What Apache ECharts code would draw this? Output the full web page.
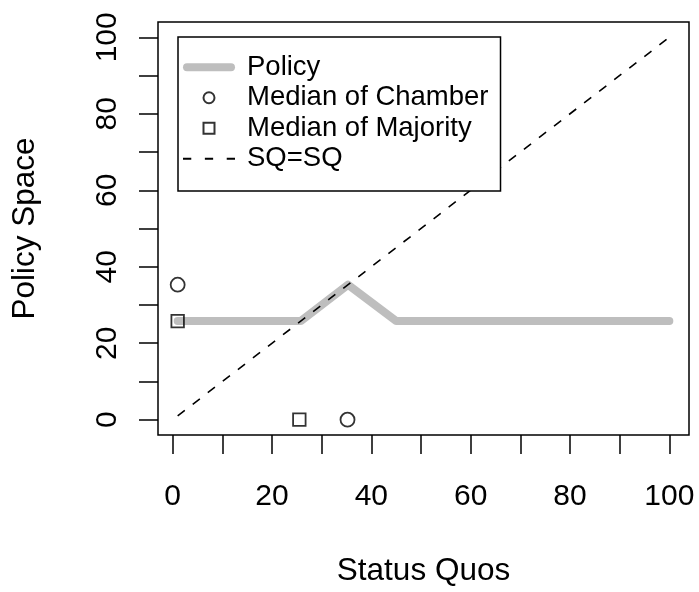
<!DOCTYPE html>
<html>
<head>
<meta charset="utf-8">
<script src="https://cdn.jsdelivr.net/npm/echarts@6/dist/echarts.min.js"></script>
<style>
html, body { margin: 0; padding: 0; background: #fff; }
#chart { width: 699px; height: 592px; }
</style>
</head>
<body>
<div id="chart"></div>
<script>
// ---- data ----
const policyX = [1, 25.8, 35.3, 45, 100];
const policyY = [25.8, 25.8, 35.3, 25.8, 25.8];
const chamberX = [1, 35.2];
const chamberY = [35.3, 0];
const majorityX = [1, 25.5];
const majorityY = [25.8, 0];
const sqX = [1, 100];
const sqY = [1, 100];
const xTicks = [0, 10, 20, 30, 40, 50, 60, 70, 80, 90, 100];
const xTickLabels = [0, 20, 40, 60, 80, 100];
const yTicks = [0, 10, 20, 30, 40, 50, 60, 70, 80, 90, 100];
const yTickLabels = [0, 20, 40, 60, 80, 100];
const seriesNames = ['Policy', 'Median of Chamber', 'Median of Majority', 'SQ=SQ'];

const pair = (xs, ys) => xs.map((x, i) => [x, ys[i]]);
const FONT = '"Liberation Sans", Arial, Helvetica, sans-serif';

const legendIcons = {
  'Policy': 'path://M4,0H48A4,4,0,0,1,48,8H4A4,4,0,0,1,4,0Z',
  'Median of Chamber': 'circle',
  'Median of Majority': 'path://M0,0H10V10H0Z',
  'SQ=SQ': 'path://M0,0H7V1.5H0Z M18.5,0H25.5V1.5H18.5Z M37,0H44V1.5H37Z'
};

const chart = echarts.init(document.getElementById('chart'), null, { renderer: 'canvas' });
chart.setOption({
  animation: false,
  backgroundColor: '#fff',
  textStyle: { fontFamily: FONT, color: '#000' },
  grid: {
    left: 158, right: 10, top: 22, bottom: 155,
    show: true, borderColor: '#000', borderWidth: 1.5, backgroundColor: 'transparent'
  },
  legend: {
    data: seriesNames.map(n => ({ name: n, icon: legendIcons[n] })),
    orient: 'vertical',
    left: 178, top: 37,
    itemWidth: 52, itemHeight: 11, itemGap: 0,
    padding: [15, 12, 17, 5],
    borderColor: '#000', borderWidth: 1.5, borderRadius: 0,
    backgroundColor: '#fff',
    selectedMode: false,
    textStyle: { fontFamily: FONT, fontSize: 27.5, lineHeight: 30.5, color: '#000', padding: [0, 0, 0, 7] }
  },
  xAxis: {
    type: 'value', min: -2.96, max: 103.96,
    name: 'Status Quos', nameLocation: 'middle', nameGap: 120,
    nameTextStyle: { fontFamily: FONT, fontSize: 31.5, color: '#000' },
    axisLine: { show: false, onZero: false },
    axisTick: { show: true, inside: false, customValues: xTicks, length: 19, lineStyle: { color: '#000', width: 1.5 } },
    axisLabel: { customValues: xTickLabels, fontFamily: FONT, fontSize: 30, color: '#000', margin: 47 },
    splitLine: { show: false }
  },
  yAxis: {
    type: 'value', min: -4, max: 104,
    name: 'Policy Space', nameLocation: 'middle', nameGap: 117,
    nameTextStyle: { fontFamily: FONT, fontSize: 31.5, color: '#000' },
    axisLine: { show: false, onZero: false },
    axisTick: { show: true, inside: false, customValues: yTicks, length: 19, lineStyle: { color: '#000', width: 1.5 } },
    axisLabel: { customValues: yTickLabels, rotate: 90, fontFamily: FONT, fontSize: 30, color: '#000', margin: 35 },
    splitLine: { show: false }
  },
  series: [
    {
      name: 'Policy', type: 'line', data: pair(policyX, policyY),
      symbol: 'none', silent: true,
      itemStyle: { color: '#BEBEBE' },
      lineStyle: { color: '#BEBEBE', width: 8, cap: 'round', join: 'round' },
      z: 2
    },
    {
      name: 'SQ=SQ', type: 'line', data: pair(sqX, sqY),
      symbol: 'none', silent: true,
      itemStyle: { color: '#000' },
      lineStyle: { color: '#000', width: 1.6, type: [9, 10] },
      z: 3
    },
    {
      name: 'Median of Chamber', type: 'scatter', data: pair(chamberX, chamberY),
      symbol: 'circle', symbolSize: 14,
      itemStyle: { color: 'rgba(0,0,0,0)', borderColor: '#000', borderWidth: 1.8 },
      z: 4
    },
    {
      name: 'Median of Majority', type: 'scatter', data: pair(majorityX, majorityY),
      symbol: 'rect', symbolSize: 12.5,
      itemStyle: { color: 'rgba(0,0,0,0)', borderColor: '#000', borderWidth: 1.8 },
      z: 4
    }
  ]
});
</script>
</body>
</html>
